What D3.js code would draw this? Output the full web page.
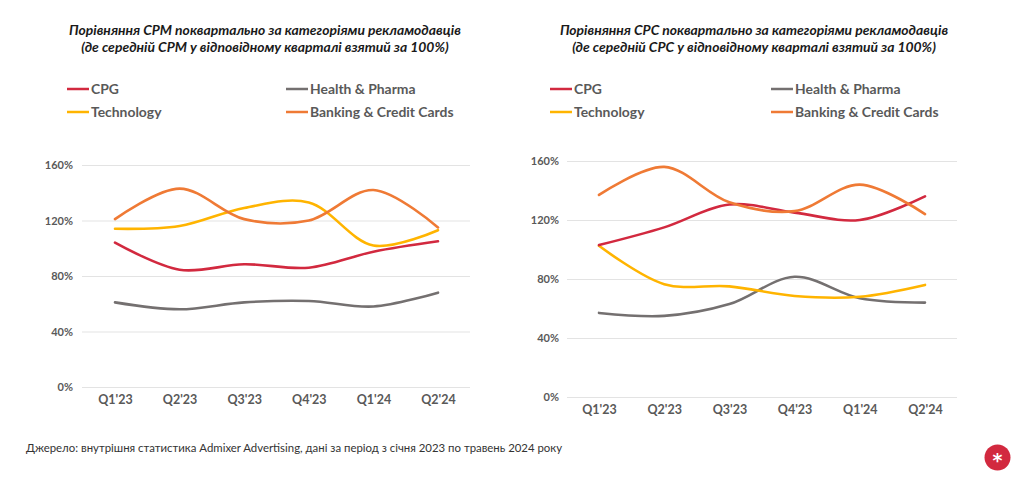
<!DOCTYPE html>
<html><head><meta charset="utf-8">
<script src="https://cdn.jsdelivr.net/npm/d3@7"></script>
<style>
html,body{margin:0;padding:0;background:#fff;}
svg{display:block;}
</style></head>
<body>
<svg id="chart" width="1024" height="479"></svg>
<script>
// ---- data ----
const quarters = ["Q1'23","Q2'23","Q3'23","Q4'23","Q1'24","Q2'24"];
const seriesNames = ["CPG","Health & Pharma","Technology","Banking & Credit Cards"];
const yTicks = [0, 40, 80, 120, 160];

const cpmCPG     = [104, 84.5, 88.5, 86, 97.5, 105];
const cpmHealth  = [61, 56, 61, 62, 58, 68];
const cpmTech    = [114, 116, 129, 133, 102, 113];
const cpmBanking = [121, 143, 121, 120, 142, 115];

const cpcCPG     = [103, 115, 130.5, 125, 120, 136];
const cpcHealth  = [57, 55, 63, 81.5, 67, 64];
const cpcTech    = [102.5, 76.5, 75, 68.5, 68, 76];
const cpcBanking = [137, 156, 132, 126, 144, 124];

const cpmTitle = ["Порівняння CPM поквартально за категоріями рекламодавців", "(де середній CPM у відповідному кварталі взятий за 100%)"];
const cpcTitle = ["Порівняння CPC поквартально за категоріями рекламодавців", "(де середній CPC у відповідному кварталі взятий за 100%)"];
const sourceText = "Джерело: внутрішня статистика Admixer Advertising, дані за період з січня 2023 по травень 2024 року";

// ---- styles ----
const colors = ["#D2293F", "#747070", "#FFB400", "#EF7A35"];
const textGray = "#595959";
const FONT = "Lato, 'Open Sans', sans-serif";

const svg = d3.select("#chart");

function drawChart(cfg) {
  const g = svg.append("g");
  const x = d3.scalePoint().domain(quarters).range([cfg.x0, cfg.x1]);
  const y = d3.scaleLinear().domain([0, 160]).range([cfg.yBottom, cfg.yTop]);

  // title
  const t = g.append("text")
    .attr("x", cfg.titleX).attr("text-anchor", "middle")
    .attr("font-family", FONT).attr("font-style", "italic").attr("font-weight", 700)
    .attr("font-size", 13.9).attr("fill", "#1a1a1a");
  cfg.title.forEach((line, i) => {
    t.append("tspan").attr("x", cfg.titleX).attr("y", 35 + i * 17).text(line);
  });

  // legend
  const legPos = [[0,0],[1,0],[0,1],[1,1]];
  seriesNames.forEach((name, i) => {
    const lx = cfg.legX[legPos[i][0]];
    const ly = 89 + legPos[i][1] * 23;
    g.append("line").attr("x1", lx).attr("x2", lx + 22).attr("y1", ly).attr("y2", ly)
      .attr("stroke", colors[i]).attr("stroke-width", 2.5);
    g.append("text").attr("x", lx + 24).attr("y", ly).attr("dy", "0.36em")
      .attr("font-family", FONT).attr("font-weight", 700).attr("font-size", 13.9)
      .attr("fill", textGray).text(name);
  });

  // y axis grid
  const yAxis = d3.axisLeft(y).tickValues(yTicks).tickFormat(d => d + "%")
    .tickSize(-(cfg.gridX1 - cfg.gridX0)).tickPadding(cfg.gridX0 - cfg.labelRight);
  const ya = g.append("g").attr("transform", `translate(${cfg.gridX0},0)`).call(yAxis);
  ya.select(".domain").remove();
  ya.selectAll(".tick line").attr("stroke", "#e3e3e3").attr("stroke-width", 1);
  ya.selectAll(".tick text").attr("font-family", FONT).attr("font-weight", 700)
    .attr("font-size", 11).attr("fill", textGray);

  // x axis
  const xAxis = d3.axisBottom(x).tickSize(0).tickPadding(cfg.xLabelPad);
  const xa = g.append("g").attr("transform", `translate(0,${cfg.yBottom})`).call(xAxis);
  xa.select(".domain").remove();
  xa.selectAll(".tick text").attr("font-family", FONT).attr("font-weight", 700)
    .attr("font-size", 12.5).attr("fill", textGray);

  // lines
  const line = d3.line().x((d, i) => x(quarters[i])).y(d => y(d)).curve(d3.curveCatmullRom.alpha(0.5));
  const order = [1, 2, 0, 3];
  order.forEach(i => {
    g.append("path").datum(cfg.series[i]).attr("d", line)
      .attr("fill", "none").attr("stroke", colors[i]).attr("stroke-width", 2.6)
      .attr("stroke-linecap", "round").attr("stroke-linejoin", "round");
  });
}

drawChart({
  title: cpmTitle, titleX: 265,
  legX: [67, 286],
  x0: 115, x1: 438, yTop: 165, yBottom: 387,
  gridX0: 82, gridX1: 470, labelRight: 73, xLabelPad: 8,
  series: [cpmCPG, cpmHealth, cpmTech, cpmBanking]
});

drawChart({
  title: cpcTitle, titleX: 754,
  legX: [550, 771],
  x0: 599, x1: 925, yTop: 161, yBottom: 397,
  gridX0: 567, gridX1: 957, labelRight: 559, xLabelPad: 8,
  series: [cpcCPG, cpcHealth, cpcTech, cpcBanking]
});

// source
svg.append("text").attr("x", 26).attr("y", 448).attr("dy", "0.35em")
  .attr("font-family", FONT).attr("font-size", 11.4).attr("fill", "#333")
  .text(sourceText);

// badge
svg.append("circle").attr("cx", 997.5).attr("cy", 457.5).attr("r", 13).attr("fill", "#D2293F");
svg.append("text").attr("x", 997.5).attr("y", 457.5).attr("dy", "0.48em").attr("text-anchor", "middle")
  .attr("font-family", "DejaVu Sans, sans-serif").attr("font-weight", 700).attr("font-size", 19).attr("fill", "#fff").text("*");
</script>
</body></html>
